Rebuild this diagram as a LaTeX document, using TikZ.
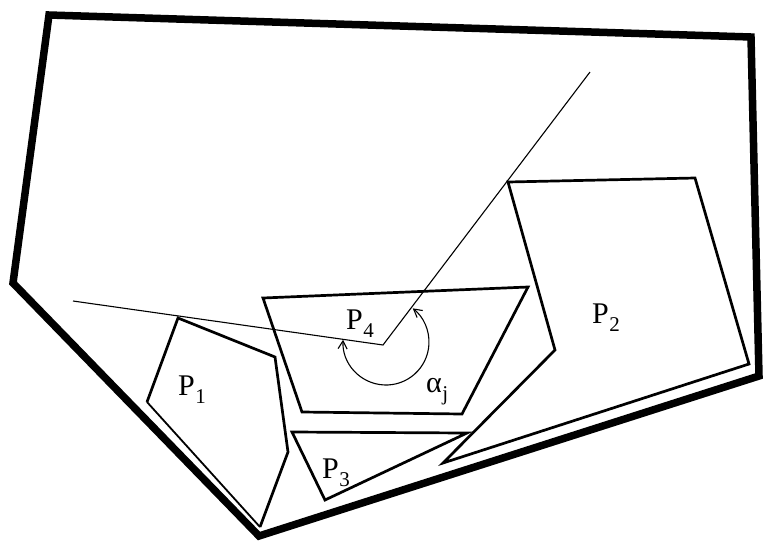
\documentclass[tikz,border=0pt]{standalone}
\usepackage{fontspec}
\setmainfont{Liberation Serif}
\usetikzlibrary{arrows.meta}
\newcommand{\lbl}[2]{#1\kern0.5pt\raisebox{-8pt}{\fontsize{21}{21}\selectfont #2}}
\begin{document}
\begin{tikzpicture}[x=1pt,y=-1pt,
  outer/.style={line width=7.5pt,line join=miter},
  poly/.style={line width=2.7pt,line join=miter},
  polythin/.style={line width=1.8pt,line join=miter},
  thin/.style={line width=1.1pt},
  lab/.style={font=\fontsize{30}{32}\selectfont,inner sep=0pt,anchor=base west}]
\useasboundingbox (0,0) rectangle (766,547);
% outer boundary
\coordinate (o1) at (49,15);
\coordinate (o2) at (751,37);
\coordinate (o3) at (759,376);
\coordinate (o4) at (259,536);
\coordinate (o5) at (13,283);
\draw[outer] (o1) -- (o2) -- (o3) -- (o4) -- (o5) -- cycle;
% P4
\coordinate (a1) at (263,298);
\coordinate (a2) at (528,287);
\coordinate (a3) at (462,414);
\coordinate (a4) at (302,412);
\draw[poly] (a1) -- (a2) -- (a3) -- (a4) -- cycle;
% P1
\coordinate (b1) at (178,318);
\coordinate (b2) at (275,357);
\coordinate (b3) at (288,452);
\coordinate (b4) at (260,527);
\coordinate (b5) at (147,402);
\draw[poly] (b5) -- (b1) -- (b2) -- (b3) -- (b4);
\draw[polythin] (b4) -- (b5);
% P2
\coordinate (c1) at (508,182);
\coordinate (c2) at (695,178);
\coordinate (c3) at (749,364);
\coordinate (c4) at (443,463);
\coordinate (c5) at (555,350);
\draw[poly] (c1) -- (c2) -- (c3) -- (c4) -- (c5) -- cycle;
% P3
\coordinate (d1) at (292,432);
\coordinate (d2) at (467,433);
\coordinate (d3) at (325,500);
\draw[poly] (d1) -- (d2) -- (d3) -- cycle;
% rays
\coordinate (apex) at (383,345);
\coordinate (rayA) at (590,72);
\coordinate (rayB) at (73,301);
\draw[thin] (rayB) -- (apex) -- (rayA);
% angle arc
\coordinate (cen) at (386,342);
\draw[thin,{Straight Barb[length=8pt,width=9pt]}-{Straight Barb[length=8pt,width=9pt]}]
  (cen) ++(177:43pt) arc[start angle=177,end angle=411.5,radius=43pt];
% labels
\node[lab] (l1) at (178,395) {\lbl{P}{1}};
\node[lab] (l2) at (592,323) {\lbl{P}{2}};
\node[lab] (l3) at (322,478) {\lbl{P}{3}};
\node[lab] (l4) at (346,329) {\lbl{P}{4}};
\node[lab] (la) at (426,392) {\lbl{α}{j}};
\end{tikzpicture}
\end{document}
